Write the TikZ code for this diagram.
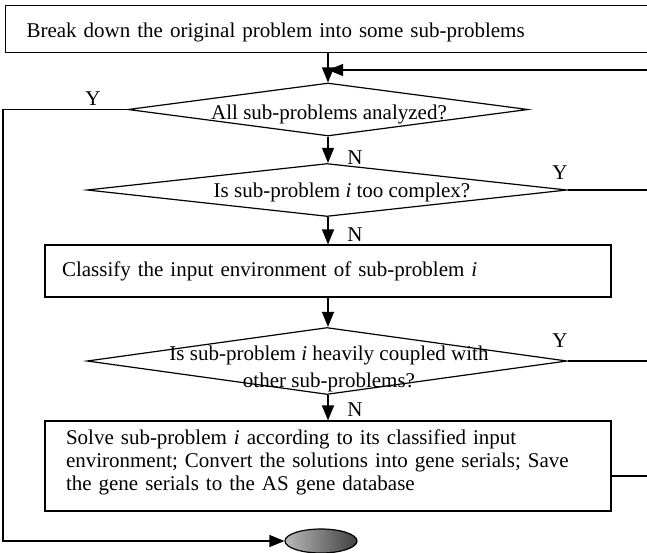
\documentclass[tikz,border=0pt]{standalone}
\usepackage{fontspec}
\setmainfont{Liberation Serif}
\usetikzlibrary{shapes.geometric,arrows.meta}

\begin{document}
\begin{tikzpicture}[x=1pt,y=-1pt,line width=1.2pt,
    font=\fontsize{21}{23}\selectfont,
    box/.style={draw,rectangle,inner sep=0pt,align=left},
    dec/.style={draw,diamond,inner sep=0pt},
    arr/.style={-{Triangle[length=15pt,width=12pt]}},
    lbl/.style={inner sep=0pt}]
    \useasboundingbox (0,0) rectangle (647,552);
    % Process boxes
    \node[box,anchor=north west,minimum height=47pt,inner xsep=21pt,text width=630pt,
          text height=17pt,text depth=0pt] (break) at (5,5)
          {Break down the original problem into some sub-problems};
    \node[box,minimum width=566pt,minimum height=52pt,inner xsep=17pt,text width=532pt]
          (classify) at (328,271) {Classify the input environment of sub-problem \textit{i}};
    \node[box,minimum width=566pt,minimum height=90pt,inner xsep=21pt,text width=524pt,
          text depth=58.6pt] (solve) at (328,466)
          {Solve sub-problem \textit{i} according to its classified input\\
           environment; Convert the solutions into gene serials; Save\\
           the gene serials to the AS gene database};
    % Decisions
    \node[dec,minimum width=400pt,minimum height=53pt] (d1) at (328,109.5) {};
    \node[dec,minimum width=480pt,minimum height=53pt] (d2) at (327,190) {};
    \node[dec,minimum width=480pt,minimum height=67pt] (d3) at (327,361) {};
    \node[lbl] (d1txt) at (329,114) {All sub-problems analyzed?};
    \node[lbl] (d2txt) at (342,192) {Is sub-problem \textit{i} too complex?};
    \node[lbl,align=center,font=\fontsize{21}{27}\selectfont] (d3txt) at (329,368.6)
          {Is sub-problem \textit{i} heavily coupled with\\other sub-problems?};
    % End
    \node[draw,ellipse,inner sep=0pt,minimum width=72pt,minimum height=24pt,
          left color=gray!55,middle color=gray!25,right color=black!75] (stop) at (321,541) {};
    % Y / N labels
    \node[lbl] (y1) at (93,98.5) {Y};
    \node[lbl] (y2) at (560,173) {Y};
    \node[lbl] (y3) at (560,341) {Y};
    \node[lbl] (n1) at (355,158) {N};
    \node[lbl] (n2) at (355,235) {N};
    \node[lbl] (n3) at (355,410) {N};
    % Flow
    \coordinate (fbtop) at (650,70);
    \coordinate (fbbot) at (650,476);
    \coordinate (lft) at (3,0);
    \draw[arr] (d1.north |- break.south) -- (d1.north);
    \draw[arr] (d1.south) -- (d2.north -| d1.south);
    \draw[arr] (d2.south -| d1.south) -- (classify.north);
    \draw[arr] (classify.south) -- (d3.north -| classify.south);
    \draw[arr] (d3.south -| classify.south) -- (solve.north);
    \draw (solve.east |- fbbot) -- (fbbot) -- (fbtop);
    \draw[arr] (fbtop) -- (d1.north |- fbtop);
    \draw (d2.east) -- (d2.east -| fbtop);
    \draw (d3.east) -- (d3.east -| fbtop);
    \draw[arr] (d1.west) -- (d1.west -| lft) -- (lft |- stop) -- (stop.west);
\end{tikzpicture}
\end{document}
